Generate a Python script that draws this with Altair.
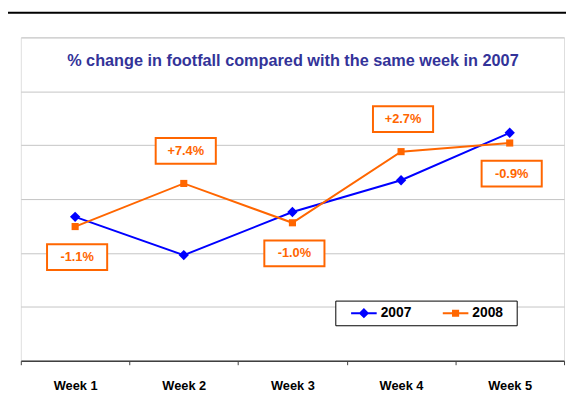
import altair as alt
import pandas as pd

weeks = ["Week 1", "Week 2", "Week 3", "Week 4", "Week 5"]
series_2007 = [2.67, 1.96, 2.76, 3.35, 4.23]
series_2008 = [2.49, 3.29, 2.56, 3.88, 4.04]
change_labels = ["-1.1%", "+7.4%", "-1.0%", "+2.7%", "-0.9%"]
label_side = ["below", "above", "below", "above", "below"]
years = ["2007", "2008"]
title_text = "% change in footfall compared with the same week in 2007"

BLUE = "#0000FF"
ORANGE = "#FF6600"
FONT = "Liberation Sans"

rows = []
for w, a, b in zip(weeks, series_2007, series_2008):
    rows.append({"Week": w, "Year": "2007", "Value": a})
    rows.append({"Week": w, "Year": "2008", "Value": b})
df = pd.DataFrame(rows)

lab = pd.DataFrame({"Week": weeks, "Value": series_2008, "Label": change_labels, "Side": label_side})

DIAMOND = "M0,-1L1,0L0,1L-1,0Z"
SQUARE = "M-1,-1L1,-1L1,1L-1,1Z"
BAR = "M0.47,-0.14L3.93,-0.14L3.93,0.14L0.47,0.14Z"
LEG_2007 = BAR + "M2.2,-0.7L2.9,0L2.2,0.7L1.5,0Z"
LEG_2008 = BAR + "M1.72,-0.48L2.68,-0.48L2.68,0.48L1.72,0.48Z" + "M9.8,0L9.8,0Z"
BOX = "M-1,-0.426L1,-0.426L1,0.426L-1,0.426Z"

x_enc = alt.X("Week:N", sort=weeks, title=None,
              scale=alt.Scale(paddingInner=0, paddingOuter=0),
              axis=alt.Axis(labelAngle=0, labelFont=FONT, labelFontSize=13, labelFontWeight="bold",
                            labelColor="black", labelPadding=15, domainColor="#404040", tickColor="#404040",
                            tickSize=4, tickBand="extent", grid=False, domainWidth=1.5))
y_enc = alt.Y("Value:Q", title=None,
              scale=alt.Scale(domain=[0, 6], nice=False, zero=False),
              axis=alt.Axis(values=[0, 1, 2, 3, 4, 5, 6], labels=False, ticks=False, domain=False,
                            grid=True, gridColor="#c4c4c4", gridWidth=1))

color_scale = alt.Scale(domain=years, range=[BLUE, ORANGE])

base = alt.Chart(df)

lines = base.mark_line(strokeWidth=2).encode(
    x=x_enc, y=y_enc,
    color=alt.Color("Year:N", scale=color_scale, legend=None),
)

points = base.mark_point(filled=True, opacity=1).encode(
    x=x_enc, y=y_enc,
    color=alt.Color("Year:N", scale=color_scale, legend=None),
    shape=alt.Shape("Year:N", scale=alt.Scale(domain=years, range=[DIAMOND, SQUARE]), legend=None),
    size=alt.Size("Year:N", scale=alt.Scale(domain=years, range=[110, 52]), legend=None),
)

leg_kwargs = dict(
    orient="none", legendX=319, legendY=267, direction="horizontal", title=None,
    labelFont=FONT, labelFontSize=14, labelFontWeight="bold", labelColor="black",
    strokeColor="black", fillColor="white", padding=5, symbolSize=225,
    symbolStrokeWidth=0, columnPadding=20, labelOffset=26, symbolOpacity=1,
)

legend_layer = base.transform_filter("false").mark_point(filled=True, opacity=1).encode(
    x=alt.X("Week:N", sort=weeks), y=alt.Y("Value:Q"),
    color=alt.Color("Year:N", scale=color_scale, legend=alt.Legend(**leg_kwargs)),
    shape=alt.Shape("Year:N", scale=alt.Scale(domain=years, range=[LEG_2007, LEG_2008]),
                    legend=alt.Legend(**leg_kwargs)),
)

lab_base = alt.Chart(lab)
layers = [lines, points]
for side, off in [("below", 31), ("above", -33)]:
    sub = lab_base.transform_filter(alt.datum.Side == side)
    boxes = sub.mark_point(shape=BOX, size=3721, filled=False, fill="white", fillOpacity=1,
                           stroke=ORANGE, strokeWidth=2, opacity=1, yOffset=off, xOffset=2).encode(
        x=alt.X("Week:N", sort=weeks), y=alt.Y("Value:Q"))
    texts = sub.mark_text(font=FONT, fontSize=13, fontWeight="bold", color=ORANGE,
                          baseline="middle", align="center", yOffset=off, xOffset=2).encode(
        x=alt.X("Week:N", sort=weeks), y=alt.Y("Value:Q"), text="Label:N")
    layers += [boxes, texts]

title = alt.Chart(pd.DataFrame({"t": [title_text]})).mark_text(
    font=FONT, fontSize=16.5, fontWeight="bold", color="#333399", baseline="middle", align="center"
).encode(x=alt.value(276), y=alt.value(24), text="t:N")

frame = alt.Chart(pd.DataFrame({"a": [0]})).mark_rect(
    fill=None, stroke="black", strokeWidth=2, clip=False
).encode(x=alt.value(-14), y=alt.value(-25), x2=alt.value(800), y2=alt.value(800))

chart = alt.layer(frame, *layers, title, legend_layer).resolve_scale(
    color="independent", shape="independent"
).properties(
    width=551, height=328,
    autosize=alt.AutoSizeParams(type="none"),
    padding={"left": 13, "top": 27, "right": 2, "bottom": 37},
).configure_view(stroke="#a0a0a0", strokeWidth=1).configure(background="white")

chart.save("out.html", embed_options={"renderer": "svg", "actions": False})
